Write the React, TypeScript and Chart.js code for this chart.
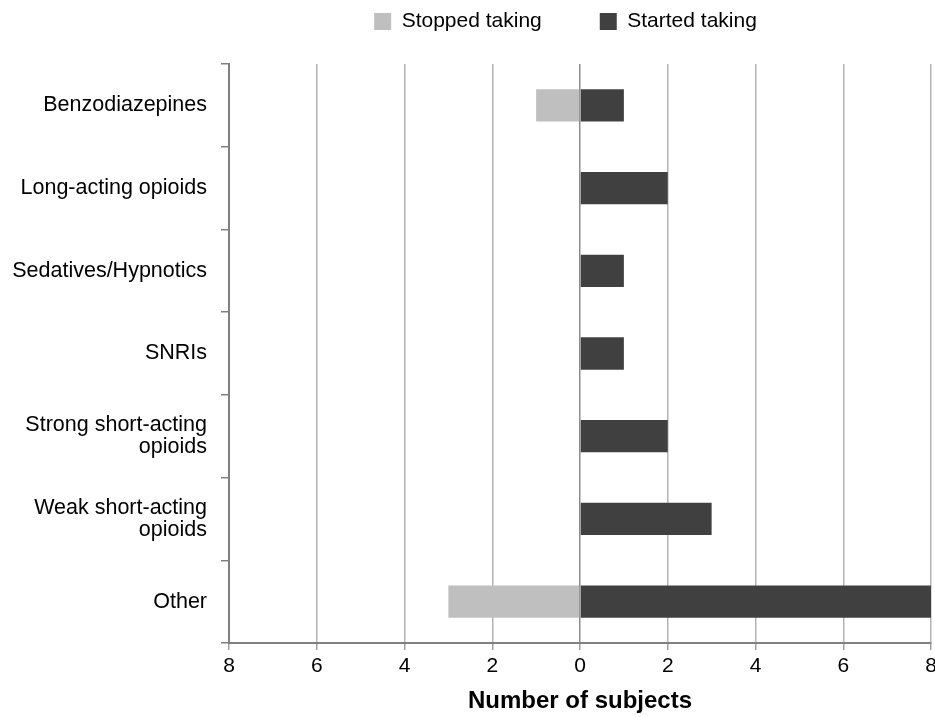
import React, { useEffect, useRef } from 'react';
import { Chart, registerables } from 'chart.js';

Chart.register(...registerables);

const categories: (string | string[])[] = [
  'Benzodiazepines',
  'Long-acting opioids',
  'Sedatives/Hypnotics',
  'SNRIs',
  ['Strong short-acting', 'opioids'],
  ['Weak short-acting', 'opioids'],
  'Other',
];
const stoppedTaking = [-1, 0, 0, 0, 0, 0, -3];
const startedTaking = [1, 2, 1, 1, 2, 3, 8];
const seriesNames = ['Stopped taking', 'Started taking'];
const seriesColors = ['#bfbfbf', '#404040'];
const xMin = -8;
const xMax = 8;
const xStep = 2;
const axisTitle = 'Number of subjects';

const FONT = '"Liberation Sans", Arial, Helvetica, sans-serif';
const LEGEND_PAD = 58;
const LEGEND_DX = 98;
const LEGEND_TOP = 11;

const legendTweak = {
  id: 'legendTweak',
  afterInit(chart: any) {
    const lg = chart.legend;
    if (!lg || lg._tweaked) return;
    lg._tweaked = true;
    const fit = lg.fit;
    lg.fit = function () {
      fit.call(this);
      this.height = 64;
    };
    const draw = lg.draw;
    lg.draw = function (...args: any[]) {
      const t = this.top;
      const l = this.left;
      const r = this.right;
      const b = this.bottom;
      this.top = t + LEGEND_TOP - LEGEND_PAD;
      this.left = l + LEGEND_DX;
      this.right = r + LEGEND_DX;
      this.bottom = b;
      draw.apply(this, args);
      this.top = t;
      this.left = l;
      this.right = r;
      this.bottom = b;
    };
  },
};

export default function App() {
  const ref = useRef<HTMLCanvasElement | null>(null);
  useEffect(() => {
    if (!ref.current) return;
    Chart.defaults.font.family = FONT;
    Chart.defaults.color = '#000';
    const chart = new Chart(ref.current, {
      type: 'bar',
      data: {
        labels: categories,
        datasets: [
          {
            label: seriesNames[0],
            data: stoppedTaking,
            backgroundColor: seriesColors[0],
            borderWidth: 0,
            barPercentage: 0.39,
            categoryPercentage: 1,
          },
          {
            label: seriesNames[1],
            data: startedTaking,
            backgroundColor: seriesColors[1],
            borderWidth: 0,
            barPercentage: 0.39,
            categoryPercentage: 1,
          },
        ],
      },
      options: {
        indexAxis: 'y',
        animation: false,
        responsive: true,
        maintainAspectRatio: false,
        layout: { padding: { top: 0, left: 0, right: 0, bottom: 0 } },
        plugins: {
          tooltip: { enabled: false },
          legend: {
            position: 'top',
            align: 'center',
            labels: {
              boxWidth: 17,
              boxHeight: 17,
              padding: LEGEND_PAD,
              color: '#000',
              font: { family: FONT, size: 21 },
            },
          },
        },
        scales: {
          x: {
            stacked: true,
            min: xMin,
            max: xMax,
            afterFit: (s: any) => {
              s.height = 74;
              s.paddingLeft = 0;
              s.paddingRight = 4;
            },
            ticks: {
              stepSize: xStep,
              padding: 4,
              color: '#000',
              font: { family: FONT, size: 21, lineHeight: 1.2 },
              callback: (v: any) => String(Math.abs(Number(v))),
            },
            grid: {
              color: (c: any) => (c.tick && c.tick.value === 0 ? '#8c8c8c' : '#b4b4b4'),
              tickColor: '#a0a0a0',
              lineWidth: 1.5,
              tickLength: 7,
              drawTicks: true,
            },
            border: { color: '#808080', width: 2 },
            title: {
              display: true,
              text: axisTitle,
              color: '#000',
              font: { family: FONT, size: 24, weight: 'bold', lineHeight: 1.2 },
              padding: { top: 0, bottom: 1 },
            },
          },
          y: {
            stacked: true,
            afterFit: (s: any) => {
              s.width = 229;
              s.paddingTop = 0;
              s.paddingBottom = 0;
            },
            ticks: {
              padding: 14,
              color: '#000',
              font: { family: FONT, size: 21.5, lineHeight: 1.0 },
            },
            grid: {
              drawOnChartArea: false,
              drawTicks: true,
              tickLength: 8,
              color: '#808080',
              lineWidth: 1.5,
            },
            border: { color: '#808080', width: 2 },
          },
        },
      },
      plugins: [legendTweak],
    } as any);
    return () => chart.destroy();
  }, []);
  return (
    <div style={{ position: 'fixed', left: 0, top: 0, width: 935, height: 717, background: '#fff' }}>
      <canvas ref={ref} />
    </div>
  );
}
